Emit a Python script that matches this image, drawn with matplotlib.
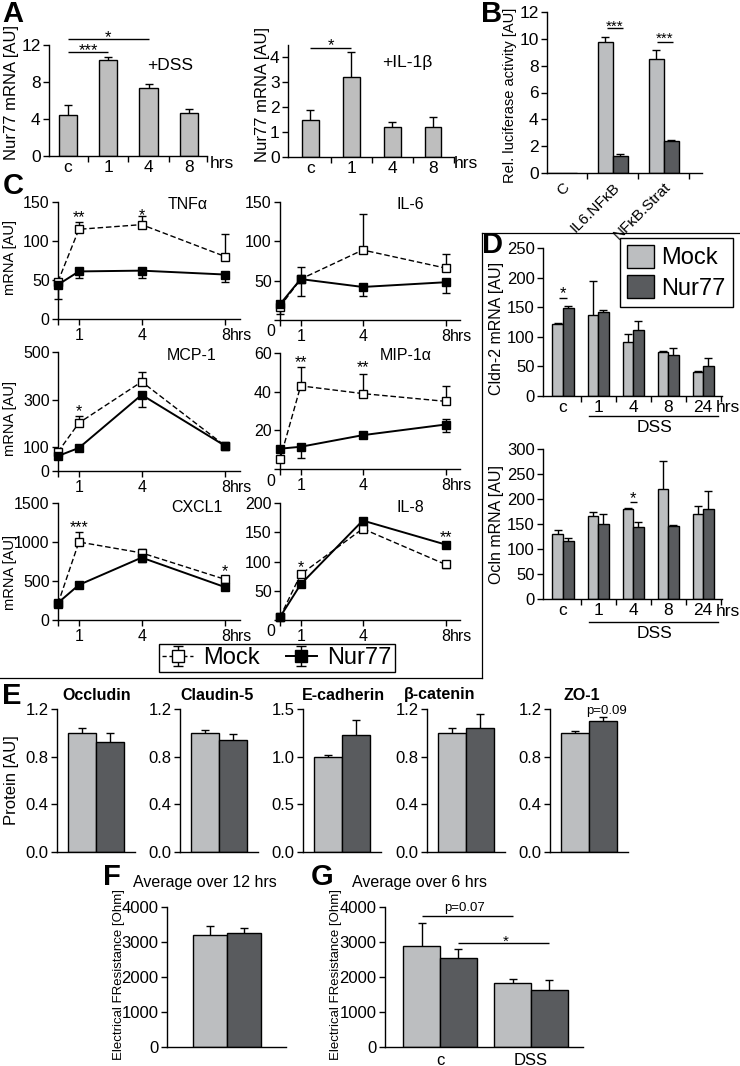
import numpy as np
import matplotlib
matplotlib.use('Agg')
import matplotlib.pyplot as plt
from matplotlib.lines import Line2D
from matplotlib.patches import Patch
from matplotlib.path import Path
from matplotlib.legend_handler import HandlerTuple

W, H = 740, 1066
SANS = ['Liberation Sans', 'DejaVu Sans']
NARROW = ['Liberation Sans Narrow', 'Liberation Sans', 'DejaVu Sans']
plt.rcParams['font.family'] = SANS
plt.rcParams.update({
    'axes.linewidth': 1.0,
    'xtick.major.width': 1.0, 'ytick.major.width': 1.0, 'xtick.minor.width': 1.0,
    'xtick.major.size': 4, 'ytick.major.size': 4, 'xtick.minor.size': 4,
    'xtick.major.pad': 2.5, 'ytick.major.pad': 2.0,
})

LIGHT = '#BCBEC0'
DARK = '#595B5E'
AGREY = '#BEBEBE'

# ---------------- data ----------------
# Panel A
a_cats = ['c', '1', '4', '8']
a_dss = [4.4, 10.4, 7.3, 4.7]
a_dss_err = [1.1, 0.25, 0.5, 0.4]
a_il1b = [1.5, 3.2, 1.2, 1.2]
a_il1b_err = [0.4, 1.0, 0.2, 0.4]

# Panel B
b_cats = ['C', 'IL6.NFκB', 'NFκB.Strat']
b_mock = [0, 9.8, 8.5]
b_mock_err = [0, 0.3, 0.7]
b_nur = [0, 1.3, 2.35]
b_nur_err = [0, 0.1, 0.1]

# Panel C (hours)
c_hours = [0, 1, 4, 8]
tnf_mock = [48, 115, 121, 80]
tnf_mock_up = [0, 9, 11, 29]
tnf_mock_dn = [22, 0, 0, 0]
tnf_nur = [44, 61, 62, 57]
tnf_nur_up = [0, 0, 0, 0]
tnf_nur_dn = [0, 8, 9, 10]

il6_mock = [17, 52, 89, 66]
il6_mock_up = [0, 16, 46, 18]
il6_mock_dn = [9, 0, 0, 0]
il6_nur = [20, 52, 42, 48]
il6_nur_up = [0, 0, 0, 0]
il6_nur_dn = [0, 22, 11, 14]

mcp_mock = [80, 202, 375, 105]
mcp_mock_up = [0, 30, 42, 0]
mcp_mock_dn = [0, 0, 0, 0]
mcp_nur = [63, 97, 320, 105]
mcp_nur_up = [0, 0, 0, 0]
mcp_nur_dn = [0, 0, 50, 0]

mip_mock = [5, 43, 39, 35]
mip_mock_up = [0, 10, 10, 8]
mip_mock_dn = [0, 0, 0, 0]
mip_nur = [10.5, 11.5, 17.5, 23]
mip_nur_up = [0, 0, 0, 3]
mip_nur_dn = [0, 6, 0, 4]

cxcl_mock = [210, 1000, 860, 520]
cxcl_mock_up = [0, 125, 55, 0]
cxcl_mock_dn = [0, 0, 0, 0]
cxcl_nur = [220, 450, 800, 420]
cxcl_nur_up = [0, 0, 0, 0]
cxcl_nur_dn = [0, 0, 60, 0]

il8_mock = [5, 78, 156, 95]
il8_mock_up = [0, 0, 0, 6]
il8_mock_dn = [0, 0, 0, 6]
il8_nur = [5, 61, 170, 129]
il8_nur_up = [0, 0, 0, 0]
il8_nur_dn = [0, 0, 0, 0]

# Panel D
d_cats = ['c', '1', '4', '8', '24']
cldn_mock = [122, 136, 91, 75, 40]
cldn_mock_err = [1.5, 58, 14, 0.5, 2]
cldn_nur = [148, 142, 112, 69, 50]
cldn_nur_err = [4, 3, 15, 12, 15]
ocln_mock = [131, 167, 181, 220, 170]
ocln_mock_err = [8, 8, 1, 57, 16]
ocln_nur = [116, 150, 145, 147, 181]
ocln_nur_err = [7, 20, 10, 2, 36]

# Panel E
e_proteins = ['Occludin', 'Claudin-5', 'E-cadherin', 'β-catenin', 'ZO-1']
e_mock = [1.0, 1.0, 1.0, 1.0, 1.0]
e_mock_err = [0.04, 0.025, 0.02, 0.04, 0.012]
e_nur = [0.92, 0.94, 1.23, 1.04, 1.10]
e_nur_err = [0.08, 0.05, 0.15, 0.12, 0.03]
e_ymax = [1.2, 1.2, 1.5, 1.2, 1.2]

# Panel F
f_mock = [3200]
f_mock_err = [250]
f_nur = [3270]
f_nur_err = [120]

# Panel G
g_cats = ['c', 'DSS']
g_mock = [2900, 1830]
g_mock_err = [650, 100]
g_nur = [2540, 1630]
g_nur_err = [250, 280]

# ---------------- helpers ----------------
fig = plt.figure(figsize=(W / 100, H / 100), dpi=100)


def pax(x0, y0, x1, y1):
    ax = fig.add_axes([x0 / W, 1 - y1 / H, (x1 - x0) / W, (y1 - y0) / H])
    ax.spines['top'].set_visible(False)
    ax.spines['right'].set_visible(False)
    ax.patch.set_alpha(0)
    return ax


def ptext(x, y, s, **kw):
    kw.setdefault('ha', 'center')
    kw.setdefault('va', 'center')
    return fig.text(x / W, 1 - y / H, s, **kw)


def star(ax, x, y, s, fs=12):
    ax.annotate(s, xy=(x, y), xytext=(0, -0.585 * fs), textcoords='offset points',
                ha='center', va='baseline', fontsize=fs, annotation_clip=False)


def sigline(ax, x0, x1, y):
    ax.plot([x0, x1], [y, y], color='k', lw=1.0, clip_on=False, solid_capstyle='butt')


def err_marks(ax, x, y, up, dn=None, cap=5.5, lw=1.0, z=3):
    for i, (xi, yi) in enumerate(zip(x, y)):
        u = up[i] if up is not None else 0
        d = dn[i] if dn is not None else 0
        if u > 0:
            ax.plot([xi, xi], [yi, yi + u], color='k', lw=lw, zorder=z, clip_on=False,
                    solid_capstyle='butt')
            ax.plot([xi], [yi + u], marker='_', ms=cap, mew=lw, color='k', zorder=z, clip_on=False)
        if d > 0:
            ax.plot([xi, xi], [yi, yi - d], color='k', lw=lw, zorder=z, clip_on=False,
                    solid_capstyle='butt')
            ax.plot([xi], [yi - d], marker='_', ms=cap, mew=lw, color='k', zorder=z, clip_on=False)


def letter(x, y, s):
    ptext(x, y, s, fontsize=21, fontweight='bold')

# ---------------- Panel A ----------------
letter(13, 14, 'A')
xa = np.arange(len(a_cats))
axA1 = pax(49, 45, 207, 156)
axA1.bar(xa, a_dss, 0.45, color=AGREY, edgecolor='k', lw=1.0, zorder=2)
err_marks(axA1, xa, a_dss, a_dss_err)
axA1.set_xlim(-0.47, 3.45)
axA1.set_ylim(0, 12)
axA1.set_yticks([0, 4, 8, 12])
axA1.set_xticks(xa, a_cats)
axA1.set_xticks([0.5, 1.5, 2.5, 3.45], minor=True)
axA1.tick_params(axis='x', which='major', length=0, pad=3, labelsize=12.5)
axA1.tick_params(axis='y', labelsize=12.5)
sigline(axA1, 0, 1, 11.2)
star(axA1, 0.5, 12.0, '***')
sigline(axA1, 0, 2, 12.6)
star(axA1, 1.0, 13.4, '*')
ptext(170, 65, '+DSS', fontsize=12.5)
ptext(222, 163, 'hrs', fontsize=12.5)
ptext(12, 92, 'Nur77 mRNA [AU]', rotation=90, fontsize=12)

axA2 = pax(288, 44.5, 454, 157)
axA2.bar(xa, a_il1b, 0.41, color=AGREY, edgecolor='k', lw=1.0, zorder=2)
err_marks(axA2, xa, a_il1b, a_il1b_err)
axA2.set_xlim(-0.54, 3.51)
axA2.set_ylim(0, 4.5)
axA2.set_yticks([0, 1, 2, 3, 4])
axA2.set_xticks(xa, a_cats)
axA2.set_xticks([0.5, 1.5, 2.5, 3.51], minor=True)
axA2.tick_params(axis='x', which='major', length=0, pad=3, labelsize=12.5)
axA2.tick_params(axis='y', labelsize=12.5)
sigline(axA2, 0, 1, 4.36)
star(axA2, 0.5, 4.68, '*')
ptext(407, 63, '+IL-1β', fontsize=12.5)
ptext(466, 163, 'hrs', fontsize=12.5)
ptext(262, 95, 'Nur77 mRNA [AU]', rotation=90, fontsize=12)

# ---------------- Panel B ----------------
letter(492, 14, 'B')
xb = np.arange(len(b_cats))
axB = pax(547, 12, 702, 173)
axB.bar(xb - 0.147, b_mock, 0.294, color=LIGHT, edgecolor='k', lw=1.0, zorder=2)
axB.bar(xb + 0.147, b_nur, 0.294, color=DARK, edgecolor='k', lw=1.0, zorder=2)
err_marks(axB, xb - 0.147, b_mock, b_mock_err)
err_marks(axB, xb + 0.147, b_nur, b_nur_err)
axB.set_xlim(-0.294, 2.75)
axB.set_ylim(0, 12)
axB.set_yticks(range(0, 13, 2))
axB.set_xticks(xb, b_cats, rotation=45, ha='right', rotation_mode='anchor')
axB.set_xticks([0.5, 1.5, 2.5], minor=True)
axB.tick_params(axis='x', which='major', length=0, pad=5, labelsize=11)
axB.tick_params(axis='y', labelsize=12.5)
sigline(axB, 1 - 0.12, 1 + 0.2, 10.8)
star(axB, 1.04, 11.3, '***', fs=11)
sigline(axB, 2 - 0.14, 2 + 0.18, 9.8)
star(axB, 2.02, 10.35, '***', fs=11)
ptext(510, 95, 'Rel. luciferase activity [AU]', rotation=90, fontsize=10.5)

# ---------------- Panel C ----------------
letter(13, 186, 'C')
c_specs = [
    ('TNFα', tnf_mock, tnf_mock_up, tnf_mock_dn, tnf_nur, tnf_nur_up, tnf_nur_dn,
     (58, 202, 240, 319), (0, 150), [0, 50, 100, 150], True, (188, 204),
     [(1, 136, '**'), (4, 139, '*')], 258),
    ('IL-6', il6_mock, il6_mock_up, il6_mock_dn, il6_nur, il6_nur_up, il6_nur_dn,
     (280, 202, 460, 320), (0, 150), [0, 50, 100, 150], False, (410, 204), [], None),
    ('MCP-1', mcp_mock, mcp_mock_up, mcp_mock_dn, mcp_nur, mcp_nur_up, mcp_nur_dn,
     (58, 352, 240, 471), (0, 500), [0, 100, 300, 500], True, (192, 355),
     [(1, 268, '*')], 418),
    ('MIP-1α', mip_mock, mip_mock_up, mip_mock_dn, mip_nur, mip_nur_up, mip_nur_dn,
     (280, 353, 460, 469), (0, 60), [0, 20, 40, 60], False, (406, 355),
     [(1, 57.5, '**'), (4, 55, '**')], None),
    ('CXCL1', cxcl_mock, cxcl_mock_up, cxcl_mock_dn, cxcl_nur, cxcl_nur_up, cxcl_nur_dn,
     (58, 503, 240, 620), (0, 1500), [0, 500, 1000, 1500], True, (197, 507),
     [(1, 1240, '***'), (8, 680, '*')], 572),
    ('IL-8', il8_mock, il8_mock_up, il8_mock_dn, il8_nur, il8_nur_up, il8_nur_dn,
     (280, 503, 460, 620), (0, 200), [0, 50, 100, 150, 200], False, (410, 507),
     [(1, 98, '*'), (8, 149, '**')], None),
]
for (title, mk, mku, mkd, nr, nru, nrd, box, ylim, yt, leftcol, tpos, stars, ylab_y) in c_specs:
    ax = pax(*box)
    ax.plot(c_hours, mk, ls=(0, (4, 2)), color='k', lw=1.0, marker='s', ms=5.5,
            mfc='w', mec='k', mew=1.0, zorder=4, clip_on=False)
    err_marks(ax, c_hours, mk, mku, mkd)
    ax.plot(c_hours, nr, ls='-', color='k', lw=1.4, marker='s', ms=5.5,
            mfc='k', mec='k', zorder=5, clip_on=False)
    err_marks(ax, c_hours, nr, nru, nrd)
    ax.set_xlim(0, 8.7)
    ax.set_ylim(*ylim)
    ax.set_xticks(c_hours, ['', '1', '4', '8'])
    ax.tick_params(axis='x', labelsize=11.5)
    ax.annotate('hrs', xy=(8, 0), xycoords=ax.get_xaxis_transform(), xytext=(3.4, -6.5),
                textcoords='offset points', ha='left', va='top', fontsize=11.5)
    if leftcol:
        ax.set_yticks(yt)
        ptext(10, ylab_y, 'mRNA [AU]', rotation=90, fontsize=10.5)
    else:
        ax.set_yticks(yt, [''] + [str(v) for v in yt[1:]])
        ptext(271, box[3] + 12, '0', fontsize=11.5)
    ax.tick_params(axis='y', labelsize=11.5)
    ptext(tpos[0], tpos[1], title, fontsize=11.5)
    for sx, sy, s in stars:
        star(ax, sx, sy, s, fs=11.5)

# legend for C
ibeam = Path([(0, -1), (0, 1), (-0.45, 1), (0.45, 1), (-0.45, -1), (0.45, -1)],
             [Path.MOVETO, Path.LINETO, Path.MOVETO, Path.LINETO, Path.MOVETO, Path.LINETO])
h_eb = Line2D([], [], ls='none', marker=ibeam, ms=15, mew=1.0, mec='k', mfc='none')
h_mock = (h_eb, Line2D([], [], color='k', ls=(0, (3, 2)), lw=1.0, marker='s', ms=8,
                       mfc='w', mec='k', mew=1.0))
h_nur = (h_eb, Line2D([], [], color='k', ls='-', lw=1.4, marker='s', ms=8, mfc='k', mec='k'))
legC = fig.legend(handles=[h_mock, h_nur], labels=['Mock', 'Nur77'],
                  handler_map={tuple: HandlerTuple(ndivide=1)},
                  loc='center', bbox_to_anchor=(277 / W, 1 - 658 / H), ncol=2, fontsize=17,
                  frameon=True, fancybox=False, edgecolor='k', framealpha=1,
                  borderpad=0.12, handlelength=1.3, handletextpad=0.45, columnspacing=1.1)
legC.get_frame().set_linewidth(1.0)

# box lines around C / D
fig.add_artist(Line2D([482 / W, 482 / W], [1 - 233 / H, 1 - 678 / H], color='k', lw=0.9,
                      transform=fig.transFigure))
fig.add_artist(Line2D([0, 482 / W], [1 - 678 / H, 1 - 678 / H], color='k', lw=0.9,
                      transform=fig.transFigure))
fig.add_artist(Line2D([482 / W, 740 / W], [1 - 233 / H, 1 - 233 / H], color='k', lw=0.9,
                      transform=fig.transFigure))

# ---------------- Panel D ----------------
letter(492, 245, 'D')
xd = np.arange(len(d_cats))
d_specs = [
    ('Cldn-2 mRNA [AU]', cldn_mock, cldn_mock_err, cldn_nur, cldn_nur_err,
     (543, 248, 722, 396), 250, (0, 165, 182), 407, 416, 428, 328),
    ('Ocln mRNA [AU]', ocln_mock, ocln_mock_err, ocln_nur, ocln_nur_err,
     (543, 449, 722, 599), 300, (2, 194, 212), 612, 622, 634, 524),
]
for (ylab, mk, mke, nr, nre, box, ymax, sig, ylabpx, linepx, dsspx, ylab_y) in d_specs:
    ax = pax(*box)
    ax.bar(xd - 0.15, mk, 0.3, color=LIGHT, edgecolor='k', lw=1.0, zorder=2)
    ax.bar(xd + 0.15, nr, 0.3, color=DARK, edgecolor='k', lw=1.0, zorder=2)
    err_marks(ax, xd - 0.15, mk, mke)
    err_marks(ax, xd + 0.15, nr, nre)
    ax.set_xlim(-0.571, 4.54)
    ax.set_ylim(0, ymax)
    ax.set_yticks(range(0, ymax + 1, 50))
    ax.set_xticks(xd, d_cats)
    ax.set_xticks([0.5, 1.5, 2.5, 3.5, 4.5], minor=True)
    ax.tick_params(axis='x', which='major', length=0, pad=3, labelsize=12.5)
    ax.tick_params(axis='y', labelsize=12)
    sigline(ax, sig[0] - 0.1, sig[0] + 0.12, sig[1])
    star(ax, sig[0], sig[2], '*', fs=12)
    ptext(728, ylabpx, 'hrs', fontsize=12.5)
    fig.add_artist(Line2D([589 / W, 718 / W], [1 - linepx / H, 1 - linepx / H], color='k',
                          lw=1.0, transform=fig.transFigure))
    ptext(654, dsspx, 'DSS', fontsize=12.5)
    ptext(496, ylab_y, ylab, rotation=90, fontsize=11.5)
    if ymax == 250:
        legD = ax.legend(handles=[Patch(fc=LIGHT, ec='k', lw=1.0), Patch(fc=DARK, ec='k', lw=1.0)],
                         labels=['Mock', 'Nur77'], loc='upper right',
                         bbox_to_anchor=(733 / W, 1 - 238 / H), bbox_transform=fig.transFigure,
                         fontsize=17, fancybox=False, edgecolor='k', framealpha=1,
                         handlelength=1.15, handleheight=1.1, borderpad=0.3, labelspacing=0.25,
                         handletextpad=0.3, borderaxespad=0)
        legD.get_frame().set_linewidth(1.0)

# ---------------- Panel E ----------------
letter(12, 696, 'E')
e_left = [57, 180, 303, 427, 550]
e_title_x = [97, 217, 343, 440, 582]
for i, prot in enumerate(e_proteins):
    x0 = e_left[i]
    ax = pax(x0, 709, x0 + 78, 852)
    ax.bar([0], [e_mock[i]], 1.0, color=LIGHT, edgecolor='k', lw=1.0, zorder=2)
    ax.bar([1], [e_nur[i]], 1.0, color=DARK, edgecolor='k', lw=1.0, zorder=2)
    err_marks(ax, [0], [e_mock[i]], [e_mock_err[i]])
    err_marks(ax, [1], [e_nur[i]], [e_nur_err[i]])
    ax.set_xlim(-0.91, 1.875)
    ymax = e_ymax[i]
    ax.set_ylim(0, ymax)
    yt = np.linspace(0, ymax, 4)
    ax.set_yticks(yt, [f'{v:.1f}' for v in yt], fontfamily=NARROW, fontsize=12)
    ax.set_xticks([])
    ptext(e_title_x[i], 695, prot, fontsize=11.5, fontweight='bold', family=NARROW)
ptext(607, 711, 'p=0.09', fontsize=9.5, family=NARROW)
ptext(12, 780, 'Protein [AU]', rotation=90, fontsize=12)

# ---------------- Panel F ----------------
letter(112, 877, 'F')
axF = pax(167, 907, 286, 1047)
axF.bar([0], f_mock, 1.0, color=LIGHT, edgecolor='k', lw=1.0, zorder=2)
axF.bar([1], f_nur, 1.0, color=DARK, edgecolor='k', lw=1.0, zorder=2)
err_marks(axF, [0], f_mock, f_mock_err)
err_marks(axF, [1], f_nur, f_nur_err)
axF.set_xlim(-1.265, 2.235)
axF.set_ylim(0, 4000)
axF.set_yticks(range(0, 4001, 1000))
axF.set_xticks([])
axF.tick_params(axis='y', labelsize=12)
ptext(205, 882, 'Average over 12 hrs', fontsize=11.5)
ptext(119, 974, 'Electrical FResistance [Ohm]', rotation=90, fontsize=9.5)

# ---------------- Panel G ----------------
letter(322, 877, 'G')
xg = np.arange(len(g_cats))
axG = pax(385, 907, 583, 1047)
axG.bar(xg - 0.2025, g_mock, 0.405, color=LIGHT, edgecolor='k', lw=1.0, zorder=2)
axG.bar(xg + 0.2025, g_nur, 0.405, color=DARK, edgecolor='k', lw=1.0, zorder=2)
err_marks(axG, xg - 0.2025, g_mock, g_mock_err)
err_marks(axG, xg + 0.2025, g_nur, g_nur_err)
axG.set_xlim(-0.604, 1.571)
axG.set_ylim(0, 4000)
axG.set_yticks(range(0, 4001, 1000))
axG.set_xticks(xg, g_cats)
axG.tick_params(axis='x', length=0, pad=4, labelsize=12)
axG.tick_params(axis='y', labelsize=12)
sigline(axG, -0.2, 0.8, 3750)
axG.text(0.27, 3960, 'p=0.07', ha='center', va='center', fontsize=9.5)
sigline(axG, 0.2, 1.2, 2960)
star(axG, 0.72, 3160, '*', fs=11)
ptext(420, 882, 'Average over 6 hrs', fontsize=11.5)
ptext(336, 974, 'Electrical FResistance [Ohm]', rotation=90, fontsize=9.5)

fig.savefig('out.png', dpi=100)
